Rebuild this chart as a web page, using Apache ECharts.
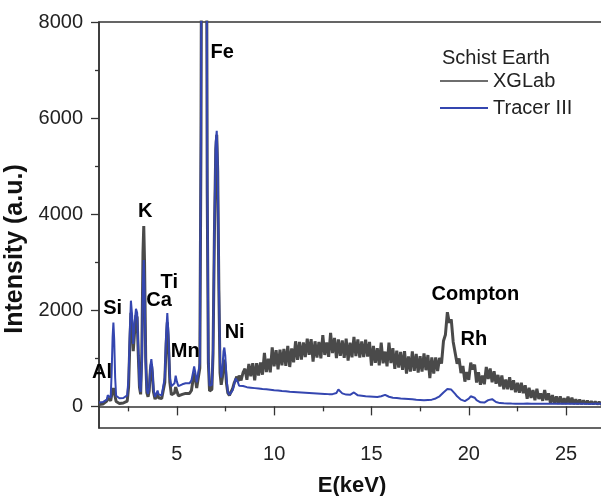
<!DOCTYPE html>
<html>
<head>
<meta charset="utf-8">
<title>Schist Earth XRF spectra</title>
<script src="https://cdn.jsdelivr.net/npm/echarts@6.0.0/dist/echarts.min.js"></script>
<style>
  html, body { margin: 0; padding: 0; background: #fff; }
  #chart { width: 601px; height: 496px; }
</style>
</head>
<body>
<div id="chart"></div>
<script>
// Low-energy region (fluorescence lines), energies in keV
const LOW_E = [
  1.00,1.10,1.20,1.30,1.40,1.45,1.50,1.55,1.60,1.65,1.70,1.74,
  1.78,1.83,1.88,1.95,2.05,2.15,2.25,2.35,2.45,2.52,2.58,2.64,
  2.70,2.76,2.82,2.90,2.96,3.02,3.08,3.14,3.20,3.26,3.30,3.34,
  3.40,3.46,3.52,3.58,3.64,3.69,3.74,3.80,3.88,3.96,4.01,4.06,
  4.14,4.22,4.30,4.38,4.45,4.51,4.57,4.64,4.72,4.80,4.88,4.94,
  5.00,5.08,5.18,5.28,5.38,5.45,5.55,5.65,5.75,5.83,5.89,5.95,
  6.02,6.10,6.18,6.24,6.30,6.40,6.50,6.56,6.62,6.68,6.74,6.80,
  6.86,6.93,7.00,7.05,7.10,7.16,7.22,7.28,7.34,7.40,7.44,7.49,
  7.55,7.62,7.70,7.78,7.86,7.94,8.02,8.08,8.14,8.20,8.30,8.40
];
const LOW_TRACER = [
  80,70,90,75,140,230,260,200,180,700,1450,1745,
  1400,600,220,180,170,165,175,190,230,600,1500,2200,
  1900,1300,1700,2030,1950,1200,450,300,900,2600,3046,2500,
  900,330,260,400,850,985,800,360,200,240,330,250,
  220,230,250,600,1500,1940,1500,600,420,410,480,640,
  520,420,440,460,500,480,470,480,540,700,830,700,
  500,460,900,6000,16000,22000,16000,5000,1000,430,415,450,
  1200,3800,5500,5735,5000,2600,900,600,800,1150,1225,1050,
  600,300,240,280,330,450,580,600,500,430,420,425
];
const LOW_XGLAB = [
  40,30,50,40,110,170,200,150,120,230,330,380,
  320,200,100,70,60,60,70,80,110,400,1250,1950,
  1700,1150,1500,1900,1850,1050,400,250,1100,3200,3755,3000,
  1000,280,200,320,760,880,700,300,150,180,250,180,
  150,160,180,500,1300,1750,1300,500,240,220,280,400,
  320,220,230,250,280,270,260,270,330,550,700,580,
  380,340,800,5500,15000,21000,15000,4500,900,320,310,350,
  1100,3600,5350,5650,4900,2400,700,450,600,920,970,830,
  480,280,230,300,360,480,560,620,520,640,540,700
];

// Continuum region: detector channels from 8.5 keV, 0.1 keV apart
const HIGH_START = 8.5;
const HIGH_STEP = 0.1;
const HIGH_TRACER = [
  420,400,410,390,395,380,385,370,375,360,
  365,355,350,345,350,335,340,330,335,320,
  325,315,320,305,310,300,305,295,300,290,
  295,285,290,280,285,275,280,270,275,265,
  270,260,265,255,260,255,260,280,350,330,
  270,250,245,250,240,260,290,260,230,225,
  220,215,210,210,205,200,200,195,195,200,
  210,230,240,225,200,185,180,175,175,170,
  165,165,160,160,155,150,150,145,140,140,
  135,130,130,130,135,135,140,150,165,190,
  210,240,290,330,360,365,350,310,260,210,
  170,140,120,110,120,160,210,225,180,130,
  100,85,75,80,100,130,150,150,120,90,
  75,68,65,63,62,60,60,58,60,57,
  59,56,58,57,56,58,55,57,56,55,
  57,54,56,55,56,54,55,56,54,55,
  53,55,54,56,53,54,55,53,54,55,
  52,54,53,55,52,53,54,52,53,54,
  52,53,52,54,52,53
];
const HIGH_XGLAB = [
  784,552,882,626,898,544,900,644,916,660,
  1115,715,990,710,1230,835,1170,770,1180,855,
  1195,845,1260,820,1205,915,1355,970,1340,975,
  1330,1025,1410,1075,1400,930,1355,1015,1340,1000,
  1485,1070,1330,1030,1530,1110,1425,1005,1395,1050,
  1375,1010,1410,955,1325,1020,1445,1045,1395,1015,
  1350,1025,1390,1035,1340,850,1260,905,1210,855,
  1325,895,1140,835,1325,900,1210,780,1160,810,
  1135,760,1150,680,1040,725,1145,740,1090,705,
  1045,725,1100,753,1068,590,1020,685,1020,735,
  1010,890,1360,1490,1960,1740,1810,1340,1310,890,
  995,695,840,515,715,550,910,770,870,495,
  710,450,640,460,820,570,790,500,730,470,
  655,415,645,355,560,355,605,340,545,295,
  490,285,490,275,440,160,385,175,340,130,
  365,155,270,115,340,130,270,65,235,60,
  208,50,208,50,170,50,203,50,181,48,
  145,48,140,47,125,48,115,48,105,47,
  100,46,92,46,86,45
];

// Peak annotations, placed in data units (keV, counts)
const PEAK_NAMES = ['Al', 'Si', 'K', 'Ca', 'Ti', 'Mn', 'Fe', 'Ni', 'Compton', 'Rh'];
const PEAK_E     = [1.16, 1.70, 3.37, 4.09, 4.61, 5.43, 7.33, 7.97, 20.34, 20.26];
const PEAK_I     = [711, 2041, 4046, 2196, 2570, 1137, 7371, 1531, 2321, 1386];

// Axis ticks
const X_MAJOR = [5, 10, 15, 20, 25];
const X_MINOR = [2.5, 7.5, 12.5, 17.5, 22.5];
const Y_MAJOR = [0, 2000, 4000, 6000, 8000];
const Y_MINOR = [1000, 3000, 5000, 7000];

const HIGH_E = HIGH_XGLAB.map((_, i) => Math.round((HIGH_START + HIGH_STEP * i) * 10) / 10);
const toPairs = (eArr, vArr) => eArr.map((e, i) => [e, vArr[i]]);
const xglabData = toPairs(LOW_E, LOW_XGLAB).concat(toPairs(HIGH_E, HIGH_XGLAB));
const tracerData = toPairs(LOW_E, LOW_TRACER).concat(toPairs(HIGH_E, HIGH_TRACER));
const peakData = PEAK_NAMES.map((n, i) => ({ name: n, value: [PEAK_E[i], PEAK_I[i]] }));

const FONT = 'Liberation Sans, Arial, Helvetica, sans-serif';
const AXIS_COLOR = '#333';
const GRAY = '#4a4a4a';
const BLUE = '#3446b0';
const plain = v => String(v);

const chart = echarts.init(document.getElementById('chart'), null, { renderer: 'canvas' });

const commonX = {
  type: 'value', min: 1, max: 27, position: 'bottom',
  splitLine: { show: false }
};
const commonY = {
  type: 'value', min: -450, max: 8000, position: 'left',
  splitLine: { show: false }
};

chart.setOption({
  animation: false,
  backgroundColor: '#fff',
  textStyle: { fontFamily: FONT },
  title: {
    text: 'Schist Earth',
    left: 442, top: 48, padding: 0,
    textStyle: { fontFamily: FONT, fontSize: 20, fontWeight: 'normal', color: '#222' }
  },
  legend: {
    orient: 'vertical',
    left: 440, top: 71, padding: 0,
    itemWidth: 48, itemHeight: 2, itemGap: 7,
    icon: 'rect',
    textStyle: { fontFamily: FONT, fontSize: 20, color: '#222', lineHeight: 20 },
    data: [
      { name: 'XGLab', itemStyle: { color: '#6e6e6e' } },
      { name: 'Tracer III', itemStyle: { color: BLUE } }
    ]
  },
  grid: {
    left: 99, right: -4, top: 22, bottom: 68,
    show: true, borderColor: AXIS_COLOR, borderWidth: 1.5,
    outerBoundsMode: 'none'
  },
  xAxis: [
    Object.assign({}, commonX, {
      name: 'E(keV)', nameLocation: 'middle', nameGap: 47,
      nameTextStyle: { fontFamily: FONT, fontSize: 22, fontWeight: 'bold', color: '#111' },
      axisLine: { show: true, lineStyle: { color: AXIS_COLOR, width: 1.5 } },
      axisTick: { show: true, length: 9, customValues: X_MAJOR, lineStyle: { color: AXIS_COLOR, width: 1.3 } },
      axisLabel: { show: true, margin: 16, customValues: X_MAJOR, formatter: plain, fontFamily: FONT, fontSize: 20, color: '#222' }
    }),
    Object.assign({}, commonX, {
      axisLine: { show: false },
      axisTick: { show: true, length: 5, customValues: X_MINOR, lineStyle: { color: AXIS_COLOR, width: 1.3 } },
      axisLabel: { show: false }
    })
  ],
  yAxis: [
    Object.assign({}, commonY, {
      name: 'Intensity (a.u.)', nameLocation: 'middle', nameGap: 55,
      nameTextStyle: { fontFamily: FONT, fontSize: 25, fontWeight: 'bold', color: '#111', padding: [0, 48, 0, 0] },
      axisLine: { show: true, lineStyle: { color: AXIS_COLOR, width: 1.5 } },
      axisTick: { show: true, length: 8, customValues: Y_MAJOR, lineStyle: { color: AXIS_COLOR, width: 1.3 } },
      axisLabel: { show: true, margin: 16, customValues: Y_MAJOR, formatter: plain, fontFamily: FONT, fontSize: 20, color: '#222' }
    }),
    Object.assign({}, commonY, {
      axisLine: { show: false },
      axisTick: { show: true, length: 4, customValues: Y_MINOR, lineStyle: { color: AXIS_COLOR, width: 1.3 } },
      axisLabel: { show: false }
    })
  ],
  series: [
    {
      name: 'XGLab', type: 'line', data: xglabData,
      xAxisIndex: 0, yAxisIndex: 0,
      showSymbol: false, clip: true, z: 2,
      itemStyle: { color: GRAY },
      lineStyle: { color: GRAY, width: 3 }
    },
    {
      name: 'Tracer III', type: 'line', data: tracerData,
      xAxisIndex: 0, yAxisIndex: 0,
      showSymbol: false, clip: true, z: 3,
      itemStyle: { color: BLUE },
      lineStyle: { color: BLUE, width: 2 }
    },
    {
      name: 'peaks', type: 'scatter', data: peakData,
      xAxisIndex: 0, yAxisIndex: 0,
      symbolSize: 0, silent: true, z: 5,
      itemStyle: { opacity: 1 },
      label: {
        show: true, position: 'inside', formatter: '{b}', opacity: 1,
        textBorderWidth: 0,
        fontFamily: FONT, fontSize: 20, fontWeight: 'bold', color: '#000'
      }
    }
  ]
});
</script>
</body>
</html>
